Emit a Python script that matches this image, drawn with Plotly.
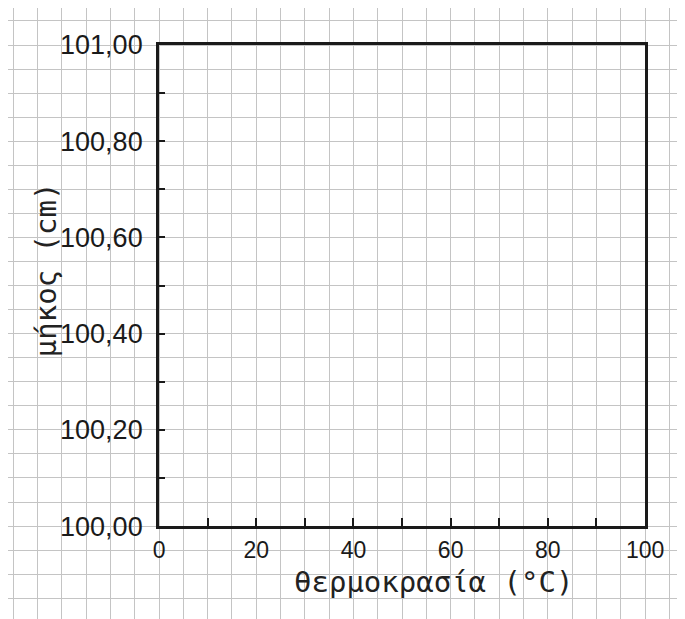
import plotly.graph_objects as go

# ---- data (axis scales of the empty graph) ----
x_tick_values = [0, 10, 20, 30, 40, 50, 60, 70, 80, 90, 100]
x_tick_labels = ["0", "", "20", "", "40", "", "60", "", "80", "", "100"]
y_tick_values = [100.0, 100.1, 100.2, 100.3, 100.4, 100.5, 100.6, 100.7, 100.8, 100.9, 101.0]
y_tick_labels = ["100,00", "", "100,20", "", "100,40", "", "100,60", "", "100,80", "", "101,00"]
x_range = [0, 100]
y_range = [100.0, 101.0]
x_title = "θερμοκρασία (°C)"
y_title = "μήκος (cm)"

W, H = 685, 619


def cal(v):
    # small correction so the photographed page lands at the intended pixels
    return (v - 4.7) / 1.0082


# plot box in pixels
L, R, T, B = cal(157), cal(647), cal(42), cal(527)
px_x = (R - L) / (x_range[1] - x_range[0])
px_y = (B - T) / (y_range[1] - y_range[0])

fig = go.Figure()

# background graph-paper grid (full page)
fig.add_trace(go.Scatter(x=[None], y=[None], xaxis="x", yaxis="y", showlegend=False, hoverinfo="skip"))
# main (empty) axes
fig.add_trace(go.Scatter(x=[None], y=[None], xaxis="x2", yaxis="y2", showlegend=False, hoverinfo="skip"))

grid_col = "#c4c4c4"
fig.update_layout(
    width=W, height=H,
    margin=dict(l=0, r=0, t=0, b=0, autoexpand=False),
    paper_bgcolor="white",
    plot_bgcolor="rgba(0,0,0,0)",
    xaxis=dict(domain=[0, 1], anchor="y", automargin=False,
               range=[x_range[0] - L / px_x, x_range[0] + (W - L) / px_x],
               tick0=0, dtick=5, showgrid=True, gridcolor=grid_col, gridwidth=1,
               showticklabels=False, zeroline=False, showline=False, ticks=""),
    yaxis=dict(domain=[0, 1], anchor="x", automargin=False,
               range=[y_range[0] - (H - B) / px_y, y_range[1] + T / px_y],
               tick0=100, dtick=0.05, showgrid=True, gridcolor=grid_col, gridwidth=1,
               showticklabels=False, zeroline=False, showline=False, ticks=""),
    xaxis2=dict(domain=[L / W, R / W], anchor="y2", range=x_range, automargin=False,
                showgrid=False, zeroline=False,
                showline=True, mirror=True, linewidth=3, linecolor="#1a1a1a",
                ticks="inside", ticklen=8, tickwidth=2, tickcolor="#1a1a1a",
                tickmode="array", tickvals=x_tick_values, ticktext=x_tick_labels,
                ticklabelstandoff=1,
                tickfont=dict(family="Liberation Sans", size=23, color="#1a1a1a")),
    yaxis2=dict(domain=[(H - B) / H, (H - T) / H], anchor="x2", range=y_range, automargin=False,
                showgrid=False, zeroline=False,
                showline=True, mirror=True, linewidth=3, linecolor="#1a1a1a",
                ticks="inside", ticklen=6, tickwidth=2, tickcolor="#1a1a1a",
                tickmode="array", tickvals=y_tick_values, ticktext=y_tick_labels,
                ticklabelstandoff=8,
                tickfont=dict(family="Liberation Sans", size=27, color="#1a1a1a")),
    annotations=[
        dict(text=x_title, xref="paper", yref="paper", x=cal(434) / W, y=1 - cal(583) / H,
             showarrow=False, xanchor="center", yanchor="middle",
             font=dict(family="DejaVu Sans Mono", size=29, color="#222")),
        dict(text=y_title, xref="paper", yref="paper", x=cal(43) / W, y=1 - cal(268) / H,
             showarrow=False, xanchor="center", yanchor="middle", textangle=-90,
             font=dict(family="DejaVu Sans Mono", size=29, color="#222")),
    ],
)

fig.write_html("out.html")
